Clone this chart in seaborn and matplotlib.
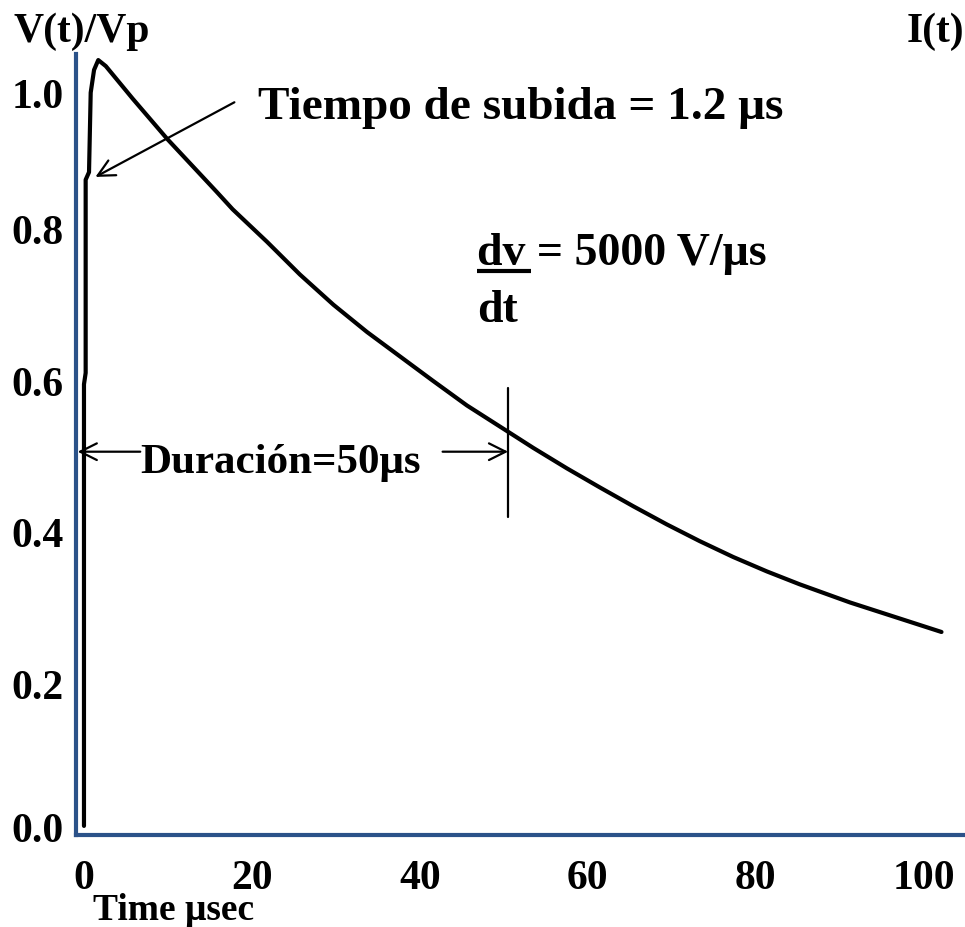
import matplotlib
matplotlib.use("Agg")
import matplotlib.pyplot as plt
import matplotlib.transforms as mtransforms
import seaborn as sns
import pandas as pd

# ---- data ----
t_us = [0.0, 0.0, 0.2, 0.2, 0.6, 0.8, 1.2, 1.7, 2.6, 5.8, 9.9, 15.8, 17.7, 21.8,
        25.7, 29.7, 33.7, 37.6, 41.5, 45.6, 50.4, 53.5, 57.5, 61.4, 65.4, 69.4,
        73.3, 77.3, 81.3, 85.2, 91.2, 102.1]
v_ratio = [0.012, 0.595, 0.61, 0.865, 0.875, 0.98, 1.01, 1.023, 1.015, 0.972, 0.919,
           0.849, 0.826, 0.783, 0.740, 0.700, 0.664, 0.632, 0.600, 0.567, 0.533,
           0.511, 0.484, 0.459, 0.434, 0.410, 0.388, 0.367, 0.348, 0.331, 0.307,
           0.268]
x_ticks = [0, 20, 40, 60, 80, 100]
y_ticks = [0.0, 0.2, 0.4, 0.6, 0.8, 1.0]
y_ticklabels = ["0.0", "0.2", "0.4", "0.6", "0.8", "1.0"]
duration_us = 50.5
rise_label = "Tiempo de subida = 1.2 \u03bcs"
slope_label = "dv = 5000 V/\u03bcs"
duration_label = "Duraci\u00f3n=50\u03bcs"

df = pd.DataFrame({"t": t_us, "v": v_ratio})

sns.set_style("white")
plt.rcParams["font.family"] = ["Liberation Serif", "DejaVu Serif"]
plt.rcParams["font.weight"] = "bold"
for k in ["text.color", "axes.labelcolor", "xtick.color", "ytick.color"]:
    plt.rcParams[k] = "black"

W, H = 965, 928
fig = plt.figure(figsize=(W / 100, H / 100), dpi=100)
ax = fig.add_axes([76 / W, 1 - 836 / H, 1 - 76 / W, (836 - 55) / H])

sns.lineplot(data=df, x="t", y="v", sort=False, estimator=None, color="black",
             linewidth=3.0, ax=ax)

YTOP = 1.031
ax.set_xlim(-0.95, 104.9)
ax.set_ylim(0, YTOP)
ax.set_xlabel("")
ax.set_ylabel("")

blue = "#2b5289"
for s in ["top", "right"]:
    ax.spines[s].set_visible(False)
for s in ["left", "bottom"]:
    ax.spines[s].set_color(blue)
    ax.spines[s].set_linewidth(3.0)

ax.set_xticks(x_ticks)
ax.set_xticklabels([str(x) for x in x_ticks])
ax.set_yticks(y_ticks)
ax.set_yticklabels(y_ticklabels)
ax.set_yticks([0.2, 0.4, 0.6, 0.8, YTOP], minor=True)
ax.tick_params(axis="x", length=0, pad=17, labelsize=30)
ax.tick_params(axis="y", which="major", length=0, pad=9, labelsize=30)
ax.tick_params(axis="y", which="minor", direction="in", length=12.5, width=2.9,
               color="black")
for lab in ax.get_xticklabels() + ax.get_yticklabels():
    lab.set_fontweight("bold")

# small hand-drawn offsets of the first and last y labels
ylabs = ax.get_yticklabels()
ylabs[0].set_transform(ylabs[0].get_transform() +
                       mtransforms.ScaledTranslation(0, 8 / 100, fig.dpi_scale_trans))
ylabs[-1].set_transform(ylabs[-1].get_transform() +
                        mtransforms.ScaledTranslation(0, -15 / 100, fig.dpi_scale_trans))

# rise-time annotation
ax.annotate("", xy=(1.07, 0.867), xytext=(18.2, 0.969),
            arrowprops=dict(arrowstyle="->", color="black", lw=1.6,
                            mutation_scale=30))
ax.text(20.7, 0.947, rise_label, fontsize=34, fontweight="bold", va="baseline",
        ha="left")

# slope annotation
ax.text(46.8, 0.754, slope_label, fontsize=33, fontweight="bold", va="baseline",
        ha="left")
ax.plot([46.8, 53.2], [0.744, 0.744], color="black", lw=3.0, solid_capstyle="butt")
ax.text(46.8, 0.679, "dt", fontsize=33, fontweight="bold", va="baseline", ha="left")

# duration annotation
ax.annotate("", xy=(-0.75, 0.506), xytext=(6.7, 0.506),
            arrowprops=dict(arrowstyle="->", color="black", lw=1.6,
                            mutation_scale=30, shrinkA=0, shrinkB=0))
ax.annotate("", xy=(duration_us, 0.506), xytext=(42.7, 0.506),
            arrowprops=dict(arrowstyle="->", color="black", lw=1.6,
                            mutation_scale=30, shrinkA=0, shrinkB=0))
ax.plot([duration_us, duration_us], [0.42, 0.59], color="black", lw=1.6)
ax.text(6.7, 0.479, duration_label, fontsize=31, fontweight="bold", va="baseline",
        ha="left")

# axis titles
fig.text(13 / W, 1 - 42 / H, "V(t)/Vp", fontsize=30, fontweight="bold",
         va="baseline", ha="left")
fig.text(907 / W, 1 - 42 / H, "I(t)", fontsize=30, fontweight="bold",
         va="baseline", ha="left")
fig.text(93 / W, 1 - 920 / H, "Time \u03bcsec", fontsize=27, fontweight="bold",
         va="baseline", ha="left")

fig.savefig("out.png", dpi=100)
